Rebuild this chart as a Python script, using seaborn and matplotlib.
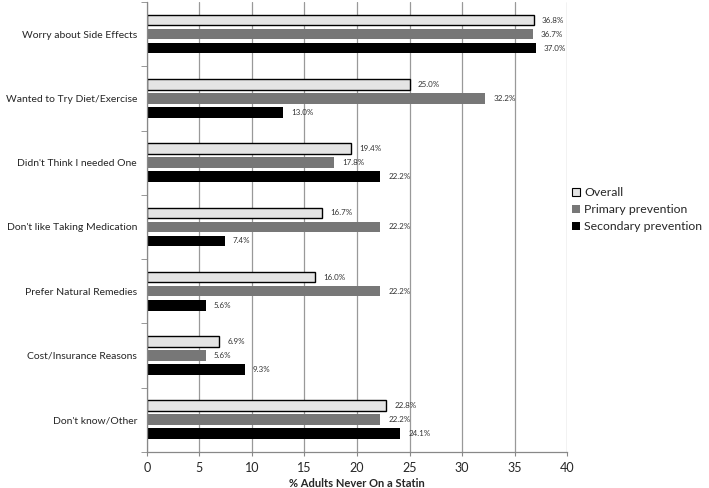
import matplotlib
matplotlib.use("Agg")
import matplotlib.pyplot as plt
import seaborn as sns
import pandas as pd
import numpy as np

categories = ["Worry about Side Effects", "Wanted to Try Diet/Exercise", "Didn't Think I needed One",
              "Don't like Taking Medication", "Prefer Natural Remedies", "Cost/Insurance Reasons",
              "Don't know/Other"]
series = ["Overall", "Primary prevention", "Secondary prevention"]
overall = [36.8, 25.0, 19.4, 16.7, 16.0, 6.9, 22.8]
primary = [36.7, 32.2, 17.8, 22.2, 22.2, 5.6, 22.2]
secondary = [37.0, 13.0, 22.2, 7.4, 5.6, 9.3, 24.1]
colors = ["#e4e4e4", "#777777", "#000000"]

rows = []
for s, vals in zip(series, [overall, primary, secondary]):
    for c, v in zip(categories, vals):
        rows.append({"Reason": c, "Series": s, "Value": v})
df = pd.DataFrame(rows)

sns.set_style("white")
plt.rcParams["font.family"] = ["Lato", "DejaVu Sans"]

fig = plt.figure(figsize=(7.09, 4.88), dpi=100)
ax = fig.add_axes([0.207, 0.074, 0.593, 0.922])

sns.barplot(data=df, y="Reason", x="Value", hue="Series", order=categories, hue_order=series,
            palette=colors, orient="h", width=0.654, ax=ax, legend=True, errorbar=None, saturation=1)

for i, cont in enumerate(ax.containers):
    for p in cont.patches:
        h = p.get_height()
        newh = 0.165
        p.set_y(p.get_y() + (h - newh) / 2)
        p.set_height(newh)
        if i == 0:
            p.set_edgecolor("black")
            p.set_linewidth(1.0)
        else:
            p.set_linewidth(0)
    ax.bar_label(cont, labels=[f"{v:.1f}%" for v in cont.datavalues], padding=6,
                 fontsize=5.8, color="#333333")

ax.set_xlim(0, 40)
ax.set_ylim(len(categories) - 0.5, -0.5)
ax.set_xticks(np.arange(0, 41, 5))
ax.tick_params(axis="x", labelsize=9, length=3, color="#888888", direction="out", bottom=True, pad=4)
ax.xaxis.grid(True, color="#999999", linewidth=0.9)
ax.set_axisbelow(True)
ax.set_xlabel("% Adults Never On a Statin", fontsize=8, fontweight="bold", labelpad=3)
ax.set_ylabel("")
ax.tick_params(axis="y", labelsize=7.5, length=0, pad=7)
ax.set_yticks(np.arange(-0.5, len(categories), 1), minor=True)
ax.tick_params(axis="y", which="minor", length=4, color="#888888", left=True)

for side in ["top", "right"]:
    ax.spines[side].set_visible(False)
for side in ["left", "bottom"]:
    ax.spines[side].set_color("#888888")
    ax.spines[side].set_linewidth(0.9)

leg = ax.legend(loc="center left", bbox_to_anchor=(0.985, 0.538), frameon=False, fontsize=8.8,
                handlelength=0.7, handleheight=0.7, handletextpad=0.3, labelspacing=0.5)
for hnd in leg.legend_handles:
    hnd.set_linewidth(0)
leg.legend_handles[0].set_edgecolor("black")
leg.legend_handles[0].set_linewidth(0.8)

fig.savefig("out.png", dpi=100)
